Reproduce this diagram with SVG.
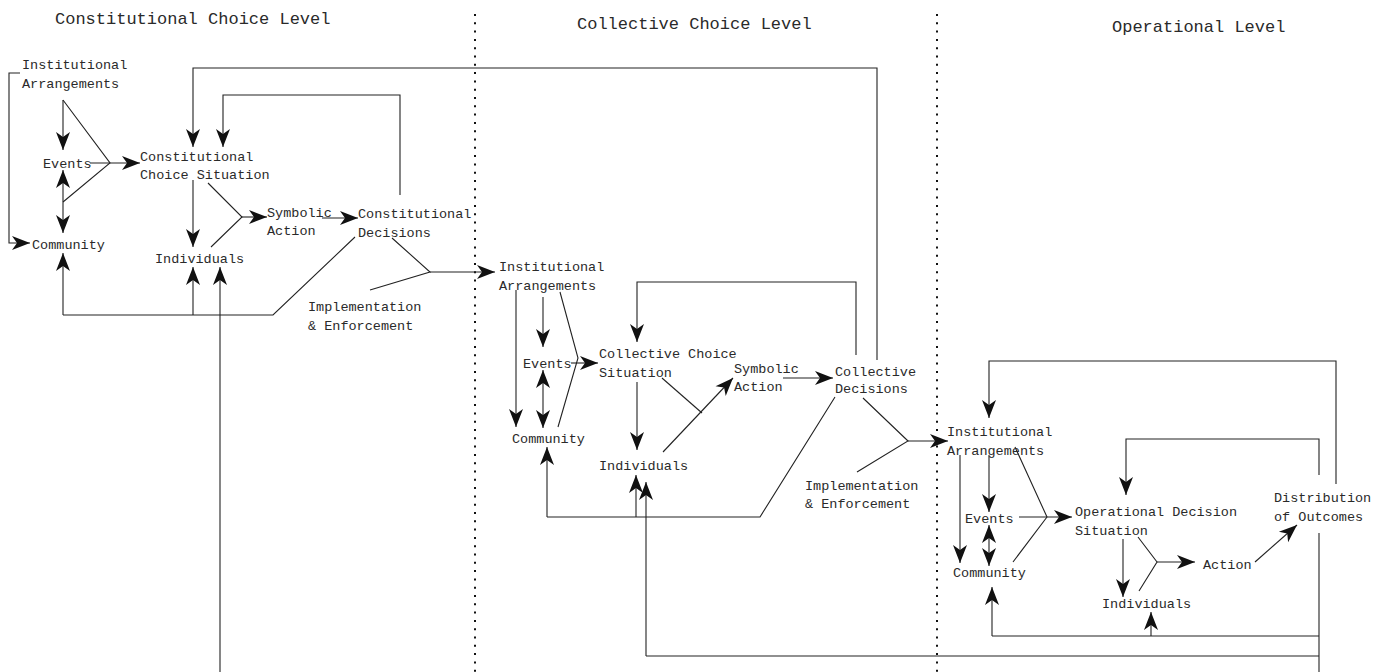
<svg xmlns="http://www.w3.org/2000/svg" width="1388" height="672" viewBox="0 0 1388 672">
<defs>
<style>
.t{font-family:"Liberation Mono","Courier New",monospace;font-size:13.5px;fill:#2a2a2a}
.h{font-family:"Liberation Mono","Courier New",monospace;font-size:17px;fill:#2a2a2a}
.c{fill:none;stroke:#222;stroke-width:1.1}
.a{fill:none;stroke:#222;stroke-width:1.1;marker-end:url(#ah)}
.d{fill:none;stroke:#222;stroke-width:1.1;marker-start:url(#ah);marker-end:url(#ah)}
.dot{fill:none;stroke:#111;stroke-width:2;stroke-dasharray:2 6.3}
</style>
<marker id="ah" viewBox="-22 -10 24 20" markerWidth="24" markerHeight="20" refX="0" refY="0" markerUnits="userSpaceOnUse" orient="auto-start-reverse">
<path d="M0,0 L-18,-7 L-13,0 L-18,7 Z" fill="#111"/>
</marker>
</defs>
<rect width="1388" height="672" fill="#fff"/>

<g id="titles">
<text class="h" x="55" y="24">Constitutional Choice Level</text>
<text class="h" x="577" y="29">Collective Choice Level</text>
<text class="h" x="1112" y="32">Operational Level</text>
</g>

<g id="dividers">
<line class="dot" x1="475" y1="14" x2="475" y2="672"/>
<line class="dot" x1="937" y1="14" x2="937" y2="672"/>
</g>

<g id="connectors">
<path class="a" d="M20,73 L9,73 L9,243 L30,243"/>
<path class="a" d="M63,100 L63,150"/>
<path class="c" d="M63,100 L110,163 L63,202"/>
<path class="a" d="M90,163 L140,163"/>
<path class="d" d="M63,170 L63,233"/>
<path class="a" d="M63,315 L63,253"/>
<path class="c" d="M63,315 L273,315 L355,237"/>
<path class="a" d="M193,315 L193,267"/>
<path class="a" d="M220,672 L220,267"/>
<path class="a" d="M877,360 L877,68 L193,68 L193,147"/>
<path class="a" d="M400,195 L400,95 L223,95 L223,147"/>
<path class="a" d="M193,180 L193,247"/>
<path class="c" d="M208,183 L242,217 L211,247"/>
<path class="a" d="M242,217 L267,217"/>
<path class="a" d="M322,218 L358,218"/>
<path class="c" d="M392,238 L430,272 L370,290"/>
<path class="a" d="M430,272 L495,272"/>
<path class="a" d="M516,290 L516,427"/>
<path class="a" d="M543,297 L543,347"/>
<path class="c" d="M560,292 L578,358 L558,427"/>
<path class="a" d="M571,363 L598,363"/>
<path class="d" d="M543,370 L543,428"/>
<path class="a" d="M547,517 L547,447"/>
<path class="c" d="M547,517 L760,517 L835,397"/>
<path class="a" d="M856,355 L856,282 L637,282 L637,342"/>
<path class="a" d="M637,382 L637,450"/>
<path class="a" d="M636,517 L636,475"/>
<path class="a" d="M646,656 L646,482"/>
<path class="c" d="M662,378 L702,413"/>
<path class="a" d="M663,452 L733,378"/>
<path class="a" d="M783,378 L833,378"/>
<path class="c" d="M863,398 L908,441 L857,472"/>
<path class="a" d="M908,441 L948,441"/>
<path class="a" d="M1336,484 L1336,361 L989,361 L989,418"/>
<path class="a" d="M960,455 L960,563"/>
<path class="a" d="M989,455 L989,512"/>
<path class="c" d="M1015,447 L1047,517 L1013,562"/>
<path class="a" d="M1019,517 L1072,517"/>
<path class="d" d="M989,525 L989,566"/>
<path class="a" d="M992,636 L992,587"/>
<path class="c" d="M992,636 L1319,636"/>
<path class="a" d="M1151,636 L1151,612"/>
<path class="a" d="M1319,475 L1319,439 L1126,439 L1126,495"/>
<path class="c" d="M1319,533 L1319,672"/>
<path class="a" d="M1123,539 L1123,597"/>
<path class="c" d="M1138,537 L1157,562 L1139,591"/>
<path class="a" d="M1157,562 L1195,562"/>
<path class="a" d="M1255,562 L1297,525"/>
<path class="c" d="M646,656 L1319,656"/>
</g>

<g id="n-ia1"><text class="t" x="22" y="69">Institutional</text><text class="t" x="22" y="88">Arrangements</text></g>
<g id="n-ev1"><text class="t" x="43" y="168">Events</text></g>
<g id="n-co1"><text class="t" x="32" y="249">Community</text></g>
<g id="n-ccs"><text class="t" x="140" y="161">Constitutional</text><text class="t" x="140" y="179">Choice Situation</text></g>
<g id="n-in1"><text class="t" x="155" y="263">Individuals</text></g>
<g id="n-sa1"><text class="t" x="267" y="217">Symbolic</text><text class="t" x="267" y="235">Action</text></g>
<g id="n-cd1"><text class="t" x="358" y="218">Constitutional</text><text class="t" x="358" y="237">Decisions</text></g>
<g id="n-ie1"><text class="t" x="308" y="311">Implementation</text><text class="t" x="308" y="330">&amp; Enforcement</text></g>

<g id="n-ia2"><text class="t" x="499" y="271">Institutional</text><text class="t" x="499" y="290">Arrangements</text></g>
<g id="n-ev2"><text class="t" x="523" y="368">Events</text></g>
<g id="n-co2"><text class="t" x="512" y="443">Community</text></g>
<g id="n-cs2"><text class="t" x="599" y="358">Collective Choice</text><text class="t" x="599" y="377">Situation</text></g>
<g id="n-in2"><text class="t" x="599" y="470">Individuals</text></g>
<g id="n-sa2"><text class="t" x="734" y="373">Symbolic</text><text class="t" x="734" y="391">Action</text></g>
<g id="n-cd2"><text class="t" x="835" y="376">Collective</text><text class="t" x="835" y="393">Decisions</text></g>
<g id="n-ie2"><text class="t" x="805" y="490">Implementation</text><text class="t" x="805" y="508">&amp; Enforcement</text></g>

<g id="n-ia3"><text class="t" x="947" y="436">Institutional</text><text class="t" x="947" y="455">Arrangements</text></g>
<g id="n-ev3"><text class="t" x="965" y="523">Events</text></g>
<g id="n-co3"><text class="t" x="953" y="577">Community</text></g>
<g id="n-ods"><text class="t" x="1075" y="516">Operational Decision</text><text class="t" x="1075" y="535">Situation</text></g>
<g id="n-in3"><text class="t" x="1102" y="608">Individuals</text></g>
<g id="n-act"><text class="t" x="1203" y="569">Action</text></g>
<g id="n-dist"><text class="t" x="1274" y="502">Distribution</text><text class="t" x="1274" y="521">of Outcomes</text></g>
</svg>
